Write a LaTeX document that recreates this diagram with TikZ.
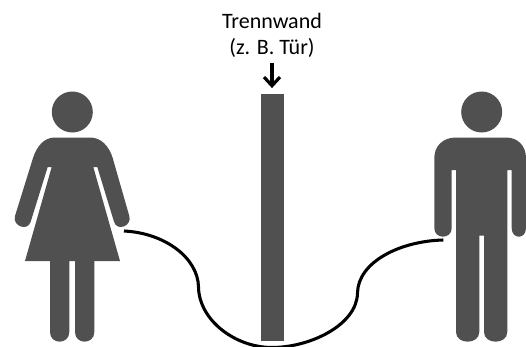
\documentclass[tikz,border=0pt]{standalone}
\usepackage{fontspec}
\setmainfont{Carlito}
\usetikzlibrary{arrows.meta}
\definecolor{figgray}{HTML}{505050}
\tikzset{
  figure/.style={fill=figgray,draw=none},
  cable/.style={draw=black,line width=2.3pt},
  wallbox/.style={fill=figgray,draw=none,minimum width=17.7pt,minimum height=185pt,inner sep=0pt,outer sep=0pt},
  walllabel/.style={align=center,font=\fontsize{16.5}{19.5}\selectfont,inner sep=0pt},
  pointer/.style={draw=black,line width=2.4pt,-{Straight Barb[length=6.5pt,width=12pt,line width=2.4pt]}}
}
\begin{document}
\begin{tikzpicture}[x=0.75pt,y=-0.75pt]
\useasboundingbox (0,0) rectangle (526,347);
% woman
\fill[figure] (72.3,112) circle (20.5);
\fill[figure] (55,137.5) -- (90,137.5)
  .. controls (101,137.5) and (109,146) .. (112.7,158)
  -- (129.3,216) .. controls (132.2,226.1) and (116.9,231.8) .. (114,221.7)
  -- (97.3,167) -- (93.3,167) -- (120,261) -- (94.3,261) -- (94.3,332)
  .. controls (94.3,344.9) and (75,344.9) .. (75,332)
  -- (75,261) -- (69.3,261) -- (69.3,332)
  .. controls (69.3,344.9) and (50,344.9) .. (50,332)
  -- (50,261) -- (25,261) -- (51.7,167) -- (47.7,167) -- (30.7,221.7)
  .. controls (27.8,231.8) and (12.1,226.1) .. (15,216)
  -- (33,158) .. controls (37,146) and (44,137.5) .. (55,137.5) -- cycle;
% man
\fill[figure] (481.7,112) circle (20.5);
\fill[figure] (456,137.5) -- (506,137.5)
  .. controls (518,137.5) and (526,146) .. (526,158)
  -- (526,228) .. controls (526,239.6) and (511.7,239.6) .. (511.7,228)
  -- (511.7,170) -- (507.3,170) -- (507.3,332)
  .. controls (507.3,344.9) and (484,344.9) .. (484,332)
  -- (484,235.7) -- (479.3,235.7) -- (479.3,332)
  .. controls (479.3,344.9) and (456,344.9) .. (456,332)
  -- (456,170) -- (451.7,170) -- (451.7,228)
  .. controls (451.7,239.6) and (434.3,239.6) .. (434.3,228)
  -- (434.3,158) .. controls (434.3,146) and (443,137.5) .. (456,137.5) -- cycle;
% wall and label
\node[wallbox] (wall) at (272.5,217.4) {};
\node[walllabel] (label) at (272,35) {Trennwand\\(z. B. Tür)};
\draw[pointer,shorten >=4.5pt,shorten <=4pt] (label.south) -- (label.south |- wall.north);
% cable
\coordinate (womanhand) at (124,231);
\coordinate (manhand) at (443.3,240);
\draw[cable] (womanhand) .. controls (165,233) and (198,258) .. (198.5,287)
  .. controls (199,320) and (235,347.5) .. (272,347.5)
  .. controls (310,347.5) and (357,325) .. (357.5,293)
  .. controls (358,262) and (400,241) .. (manhand);
\end{tikzpicture}
\end{document}
